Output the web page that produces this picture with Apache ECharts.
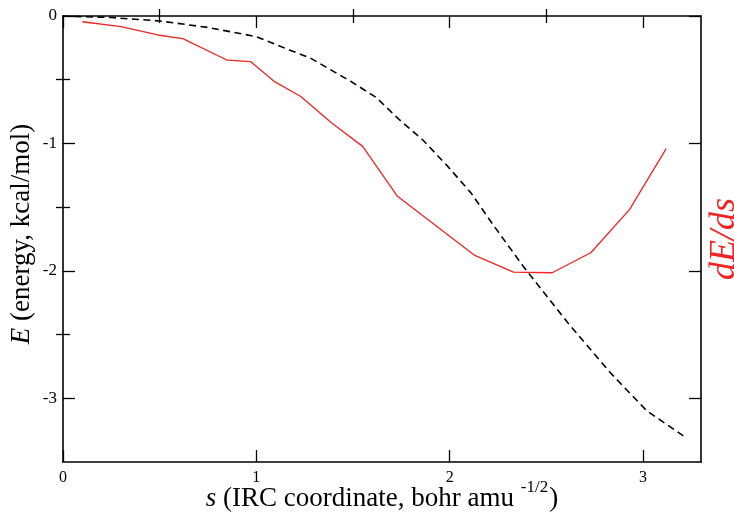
<!DOCTYPE html>
<html>
<head>
<meta charset="utf-8">
<script src="https://cdn.jsdelivr.net/npm/echarts@6/dist/echarts.min.js"></script>
<style>
html,body{margin:0;padding:0;background:#fff;}
#chart{width:734px;height:521px;}
</style>
</head>
<body>
<div id="chart"></div>
<script>
// Energy along the IRC (dashed black)
const sEnergy = [0, 0.25, 0.5, 0.75, 1.0, 1.17, 1.28, 1.49, 1.62, 1.74, 1.86, 1.99, 2.11, 2.23, 2.38, 2.61, 2.83, 3.02, 3.22];
const energy  = [0, -0.012, -0.039, -0.09, -0.162, -0.266, -0.331, -0.514, -0.64, -0.814, -0.971, -1.18, -1.388, -1.65, -1.963, -2.406, -2.798, -3.099, -3.307];
// Gradient dE/ds (red)
const sGrad = [0.10, 0.30, 0.49, 0.62, 0.85, 0.97, 1.09, 1.23, 1.39, 1.55, 1.73, 2.13, 2.33, 2.53, 2.73, 2.93, 3.12];
const dEds  = [-0.045, -0.084, -0.149, -0.178, -0.347, -0.358, -0.511, -0.632, -0.840, -1.023, -1.415, -1.879, -2.010, -2.015, -1.858, -1.519, -1.041];
// Tick values
const xMajor = [0, 1, 2, 3];
const xMinor = [0.5, 1.5, 2.5];
const yMajor = [0, -1, -2, -3];
const yMinor = [-0.5, -1.5, -2.5];

const FONT = '"Liberation Serif", "Times New Roman", serif';
const RED = '#f02424';
const XMIN = 0, XMAX = 3.3, YMIN = -3.5, YMAX = 0;

function xAx(pos, ticks, len, opts) {
  return Object.assign({
    type: 'value', position: pos, min: XMIN, max: XMAX,
    axisLine: {show: false},
    axisTick: {show: true, inside: true, length: len, customValues: ticks, lineStyle: {color: '#000', width: 1.3}},
    axisLabel: {show: false},
    splitLine: {show: false}
  }, opts || {});
}
function yAx(pos, ticks, len, opts) {
  return Object.assign({
    type: 'value', position: pos, min: YMIN, max: YMAX,
    axisLine: {show: false},
    axisTick: {show: true, inside: true, length: len, customValues: ticks, lineStyle: {color: '#000', width: 1.3}},
    axisLabel: {show: false},
    splitLine: {show: false}
  }, opts || {});
}

const chart = echarts.init(document.getElementById('chart'), null, {renderer: 'canvas'});
chart.setOption({
  animation: false,
  backgroundColor: '#fff',
  grid: {left: 63, right: 33, top: 16, bottom: 59, containLabel: false, outerBoundsMode: 'none'},
  xAxis: [
    xAx('bottom', xMajor, 12, {
      axisLine: {show: true, onZero: false, lineStyle: {color: '#000', width: 1.6}},
      axisLabel: {show: true, customValues: xMajor, margin: 8, color: '#000', fontFamily: FONT, fontSize: 16},
      name: '{it|s} (IRC coordinate, bohr amu {sup|-1/2}{n|)}',
      nameLocation: 'middle', nameGap: 17, nameMoveOverlap: false,
      nameTextStyle: {
        color: '#000', fontFamily: FONT, fontSize: 27, lineHeight: 40,
        rich: {
          it: {fontStyle: 'italic', fontFamily: FONT, fontSize: 27, color: '#000', lineHeight: 40},
          sup: {fontFamily: FONT, fontSize: 17, color: '#000', verticalAlign: 'top', lineHeight: 16, padding: [0, 1, 0, 0]},
          n: {fontFamily: FONT, fontSize: 27, color: '#000', lineHeight: 40}
        }
      }
    }),
    xAx('bottom', xMinor, 7),
    xAx('top', xMajor, 12, {axisLine: {show: true, onZero: false, lineStyle: {color: '#000', width: 1.6}}}),
    xAx('top', xMinor, 7)
  ],
  yAxis: [
    yAx('left', yMajor, 12, {
      axisLine: {show: true, onZero: false, lineStyle: {color: '#000', width: 1.6}},
      axisLabel: {show: true, customValues: yMajor, margin: 6, color: '#000', fontFamily: FONT, fontSize: 17},
      name: '{it|E} (energy, kcal/mol)',
      nameLocation: 'middle', nameGap: 28, nameRotate: 90, nameMoveOverlap: false,
      nameTextStyle: {
        color: '#000', fontFamily: FONT, fontSize: 27, padding: [0, 0, 0, 10],
        rich: {it: {fontStyle: 'italic', fontFamily: FONT, fontSize: 27, color: '#000'}}
      }
    }),
    yAx('left', yMinor, 7),
    yAx('right', yMajor, 12, {
      axisLine: {show: true, onZero: false, lineStyle: {color: '#000', width: 1.6}},
      name: 'dE/ds',
      nameLocation: 'middle', nameGap: 6, nameRotate: 90, nameMoveOverlap: false,
      nameTextStyle: {color: RED, fontFamily: FONT, fontStyle: 'italic', fontSize: 36}
    }),
    yAx('right', yMinor, 7)
  ],
  series: [
    {
      type: 'line', xAxisIndex: 0, yAxisIndex: 0,
      data: sEnergy.map((s, i) => [s, energy[i]]),
      showSymbol: false, symbol: 'none',
      lineStyle: {color: '#000', width: 1.6, type: [7, 4.5]},
      z: 3
    },
    {
      type: 'line', xAxisIndex: 0, yAxisIndex: 2,
      data: sGrad.map((s, i) => [s, dEds[i]]),
      showSymbol: false, symbol: 'none',
      lineStyle: {color: RED, width: 1.3},
      z: 4
    }
  ]
});
</script>
</body>
</html>
